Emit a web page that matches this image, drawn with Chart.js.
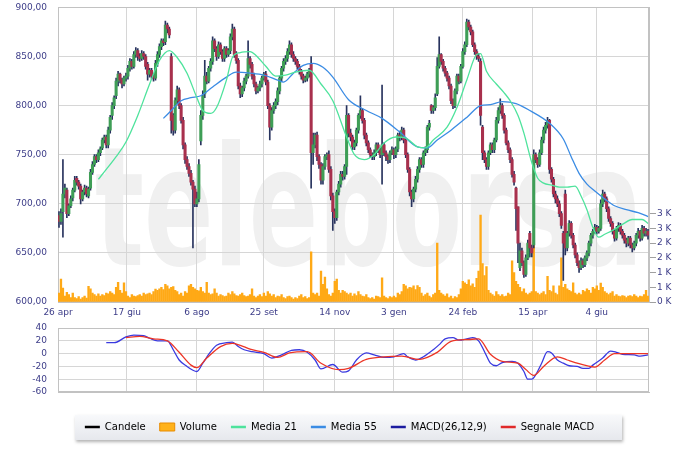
<!DOCTYPE html>
<html>
<head>
<meta charset="utf-8">
<script src="https://cdn.jsdelivr.net/npm/chart.js"></script>
<style>
  html, body { margin: 0; padding: 0; background: #fff; }
  #wrap { position: relative; width: 700px; height: 451px; overflow: hidden; }
  #top { position: absolute; left: 0; top: 0; width: 700px; height: 320px; }
  #bottom { position: absolute; left: 0; top: 320px; width: 700px; height: 131px; }
</style>
</head>
<body>
<div id="wrap">
  <div id="top"><canvas id="priceChart"></canvas></div>
  <div id="bottom"><canvas id="macdChart"></canvas></div>
</div>
<script>
// daily candles, one entry per trading day from 26 apr
const open = [
  688,682,692,710,714,690,698,706,714,726,
  722,718,705,712,716,708,716,732,740,748,
  745,752,757,765,768,760,775,790,800,810,
  825,832,826,822,828,830,838,845,840,852,
  856,850,848,853,850,842,832,836,830,828,
  843,852,860,866,865,882,878,850,790,775,
  805,816,800,785,760,745,738,731,722,715,
  700,705,764,790,812,830,825,838,845,866,
  858,850,862,855,848,858,852,856,870,878,
  852,846,820,812,818,825,830,848,842,830,
  822,815,818,822,828,832,824,800,778,795,
  800,804,815,828,838,845,848,855,862,852,
  848,845,840,835,830,826,828,832,842,752,
  760,770,748,740,724,738,748,750,735,708,
  692,686,712,720,730,728,738,790,772,768,
  758,762,775,790,795,785,770,762,755,750,
  748,752,760,755,750,760,752,748,745,752,
  755,750,756,770,768,775,765,750,735,712,
  705,715,725,735,745,740,752,755,778,800,
  795,798,812,840,852,845,838,833,828,820,
  805,800,815,830,825,840,855,862,885,880,
  875,862,855,850,845,778,752,745,738,752,
  760,755,765,785,795,800,790,775,762,755,
  745,730,716,697,635,652,640,628,645,670,
  655,658,750,745,740,752,765,775,780,785,
  735,725,710,705,700,690,670,710,655,670,
  680,668,658,648,640,635,642,638,645,650,
  660,668,672,676,672,675,700,710,705,695,
  685,680,672,665,675,678,672,668,663,660,
  665,658,655,660,668,672,665,675,670,672
];
const high = [
  692,695,745,720,716,700,708,716,728,728,
  724,720,714,719,718,717,735,743,750,750,
  755,758,767,770,770,778,790,803,810,828,
  835,833,828,830,833,841,848,847,855,859,
  858,853,856,855,852,844,838,838,832,846,
  855,863,868,868,886,884,880,853,792,808,
  820,818,802,788,762,748,741,734,724,718,
  712,745,795,815,846,834,840,848,870,868,
  860,865,864,857,860,860,858,873,883,880,
  855,848,823,820,828,832,866,850,844,833,
  824,820,825,830,834,835,826,802,798,803,
  807,818,830,840,848,851,858,866,864,855,
  850,847,842,837,832,830,834,838,850,772,
  772,773,750,742,741,750,752,754,738,711,
  695,714,723,733,733,740,800,792,776,770,
  765,777,792,810,797,787,772,764,757,752,
  755,762,762,757,821,762,754,750,754,758,
  757,758,772,774,778,777,767,752,737,714,
  717,728,738,747,747,754,758,780,785,801,
  800,812,849,870,853,847,840,835,830,822,
  807,817,832,832,842,858,865,888,887,882,
  877,864,857,853,848,780,754,747,754,762,
  762,767,788,798,807,802,792,777,764,757,
  747,733,717,697,660,655,642,648,663,672,
  658,755,752,747,755,768,778,783,788,786,
  737,727,713,708,703,692,672,714,672,683,
  682,670,660,650,642,645,644,647,652,662,
  670,674,679,678,677,704,714,712,707,697,
  687,682,674,677,681,680,674,670,665,667,
  667,660,662,670,675,673,678,677,675,674
];
const low = [
  676,679,666,706,686,688,696,703,712,719,
  715,700,703,709,707,706,714,730,738,742,
  743,749,755,762,757,757,772,786,797,807,
  820,823,818,820,825,827,835,837,838,849,
  846,845,846,847,837,826,829,827,825,826,
  840,849,857,861,862,874,869,772,770,772,
  802,797,782,756,741,735,728,719,655,697,
  697,702,760,786,808,822,823,835,842,855,
  846,848,852,845,845,849,850,853,867,849,
  843,817,808,809,815,822,828,838,827,819,
  812,813,815,819,826,821,797,765,775,792,
  797,801,812,825,835,842,845,852,849,845,
  842,837,832,827,823,824,825,829,716,740,
  757,744,736,720,720,735,745,732,704,673,
  680,683,709,717,724,725,730,768,764,755,
  755,759,772,787,782,766,759,752,747,745,
  745,749,752,747,720,749,744,741,742,750,
  746,747,753,764,765,762,747,732,708,697,
  702,712,722,732,737,737,749,752,775,792,
  792,795,810,838,842,835,830,825,817,802,
  797,798,812,822,823,838,852,860,877,872,
  860,852,847,845,780,745,742,735,735,750,
  752,752,763,782,792,787,772,760,752,742,
  727,719,673,640,632,637,625,626,643,646,
  646,655,742,737,738,750,762,772,777,731,
  722,707,701,697,687,675,622,648,652,667,
  665,655,645,637,630,633,635,636,642,647,
  657,665,670,669,670,673,697,702,692,682,
  677,669,662,663,672,669,665,660,656,657,
  655,651,653,657,665,662,663,667,667,664
];
const close = [
  682,690,710,716,690,698,705,714,724,722,
  718,705,712,716,710,715,732,740,748,745,
  752,756,765,768,760,775,788,800,808,825,
  832,826,822,828,830,838,845,840,852,856,
  850,848,853,850,840,832,836,830,828,843,
  852,860,866,864,882,878,872,785,775,805,
  816,800,785,760,745,738,731,722,715,700,
  705,740,790,810,830,825,838,845,866,858,
  850,862,855,848,858,852,856,870,878,852,
  846,820,812,818,825,830,848,842,830,822,
  815,818,822,828,832,824,800,778,795,800,
  804,815,828,838,845,848,855,862,852,848,
  845,840,835,830,826,828,832,836,752,760,
  770,748,740,724,738,748,750,735,708,692,
  686,712,720,730,728,738,790,772,768,758,
  762,775,790,795,785,770,762,755,750,748,
  752,760,755,750,760,752,748,745,752,755,
  750,756,770,768,775,765,750,735,712,705,
  715,725,735,745,740,752,755,778,782,795,
  798,808,840,852,845,838,833,828,820,805,
  800,815,830,825,840,855,862,885,880,875,
  862,855,850,848,790,752,745,738,752,760,
  755,765,785,795,800,790,775,762,755,745,
  730,722,695,660,652,640,628,645,660,655,
  650,750,745,740,752,765,775,780,785,735,
  725,710,705,700,690,678,660,655,670,680,
  668,658,648,640,635,642,638,645,650,660,
  668,672,676,672,675,700,710,705,695,685,
  680,672,665,675,678,672,668,663,660,665,
  658,655,660,668,672,665,675,670,672,668
];
const volume = [
  300,780,470,200,330,250,150,300,150,120,
  180,100,150,200,130,530,450,300,250,200,
  280,200,250,220,300,280,350,300,250,500,
  670,400,300,650,350,200,150,250,200,180,
  220,250,200,300,250,280,300,250,350,440,
  400,450,500,420,600,550,450,500,520,400,
  350,250,300,200,350,300,550,600,500,450,
  400,380,500,350,300,670,300,250,280,450,
  300,200,250,220,180,200,300,250,350,280,
  220,200,250,300,220,180,200,250,450,200,
  150,200,250,180,300,200,350,280,200,250,
  150,200,180,250,150,120,180,200,150,100,
  150,120,200,250,150,180,120,150,1700,300,
  250,300,200,1050,600,850,450,250,200,300,
  700,780,400,300,400,350,300,250,300,200,
  280,220,350,250,200,180,250,150,120,150,
  100,200,180,150,820,200,150,120,180,150,
  200,150,300,250,350,600,550,450,500,480,
  550,420,560,500,300,200,250,300,200,150,
  250,300,2000,400,300,250,200,280,150,200,
  120,180,150,250,450,700,650,600,750,550,
  620,500,800,1050,2950,1300,900,1200,400,300,
  250,200,350,250,200,250,180,200,300,250,
  1400,1000,700,600,500,350,450,300,250,300,
  350,2100,350,300,250,300,350,250,870,400,
  350,550,300,250,550,1500,500,600,450,400,
  350,650,300,250,300,250,400,350,450,400,
  300,500,450,550,400,640,500,350,300,250,
  300,350,200,250,200,180,220,200,150,200,
  220,180,250,200,150,200,180,250,400,200
];

// moving averages at the given trading days
const ma21Days = [20,24,29,34,40,46,51,56,60,65,70,73,77,80,85,88,92,97,100,105,
  110,115,120,127,133,139,146,150,155,160,165,171,176,182,186,190,197,202,207,212,
  214,217,222,226,229,233,236,240,243,246,250,254,258,262,265,268,271,274,277,281,
  286,291,296,299];
const ma21 = [725,735,748,763,790,822,846,856,849,833,808,795,792,798,826,849,854,855,851,840,
  830,831,834,836,822,805,768,750,745,750,762,768,767,758,757,765,778,798,826,852,
  853,835,822,813,805,790,772,742,726,721,719,717,717,718,708,694,676,666,669,673,
  679,684,684,680];
const ma55Days = [53,57,62,67,72,78,85,90,97,104,111,114,119,124,129,134,139,147,156,164,
  173,182,187,192,199,207,214,219,225,232,239,249,256,260,264,268,272,277,282,288,294,299];
const ma55 = [787,795,805,808,810,819,829,834,833,831,826,824,833,841,843,839,829,806,795,787,
  773,758,757,765,775,788,800,801,804,802,795,782,766,748,731,720,713,705,698,694,691,687];

// MACD(26,12,9) and its signal line
const macdDays = [24,28,34,38,43,46,50,55,58,61,65,68,70,73,77,80,85,88,91,94,
  98,104,108,113,118,122,126,130,133,139,144,147,151,156,160,165,170,175,177,181,
  185,190,193,196,200,203,207,210,213,216,219,222,225,230,233,236,238,240,242,245,
  248,250,253,256,259,263,266,269,271,276,280,283,286,292,295,299];
const macd = [17,17,26,29,28,24,20,20,6,-10,-20,-26,-28,-15,3,13,17,18,11,6,
  3,0,-7,-2,5,6,2,-10,-24,-17,-29,-27,-10,1,-2,-6,-5,0,-5,-10,
  -5,6,14,23,25,21,23,25,20,3,-15,-19,-14,-12,-15,-28,-40,-40,-33,-15,
  3,1,-10,-15,-19,-20,-23,-23,-18,-7,4,2,-1,-2,-4,-2];
const signalDays = [34,41,48,55,61,67,70,75,82,88,92,97,104,111,117,126,133,142,147,156,
  165,174,183,192,199,208,213,219,225,233,237,241,246,253,258,262,272,277,282,292,299];
const signal = [25,27,23,20,2,-18,-22,-7,11,16,13,7,2,-6,1,3,-15,-25,-23,-9,
  -5,-4,-9,2,19,22,23,-1,-12,-15,-25,-34,-20,-5,-10,-14,-21,-10,0,0,0];

// date ticks (position in trading days) and their labels
const tickDays = [-0.5, 34.5, 70, 104, 140, 170, 205, 240.5, 273];
const tickLabels = ["26 apr", "17 giu", "6 ago", "25 set", "14 nov", "3 gen", "24 feb", "15 apr", "4 giu"];

const upColour = "#3e9e56";
const downColour = "#a8304d";
const wickColour = "#28335e";
const volColour = "#ffa916";
const ma21Colour = "#4ee39c";
const ma55Colour = "#3b8ce4";
const macdColour = "#3a3ae0";
const signalColour = "#ec3526";
const gridColour = "#d6d6d6";
const frameColour = "#c2c2c2";
const tickColour = "#3c3c88";
const noColour = "rgba(0,0,0,0)";
const tickFont = { family: "'DejaVu Sans', Verdana, sans-serif", size: 9 };

const pts = (xs, ys) => xs.map((x, i) => ({ x: x, y: ys[i] }));
const days = close.map((c, i) => i);

const wickData = days.map(i => ({ x: i, y: [low[i], high[i]] }));
const bodyData = days.map(i => ({
  x: i,
  y: open[i] === close[i] ? [close[i] - 0.6, close[i] + 0.6] : [Math.min(open[i], close[i]), Math.max(open[i], close[i])]
}));
const bodyColours = days.map(i => close[i] >= open[i] ? upColour : downColour);
const volumeData = days.map(i => ({ x: i, y: volume[i] }));

function dateAxis(showLabels, height) {
  return {
    type: "linear",
    min: -0.5,
    max: 299.5,
    offset: false,
    afterBuildTicks: s => { s.ticks = tickDays.map(v => ({ value: v })); },
    afterFit: s => { s.height = height; },
    grid: { color: gridColour, drawTicks: false, offset: false },
    border: { color: frameColour },
    ticks: {
      display: showLabels,
      autoSkip: false,
      maxRotation: 0,
      padding: 5,
      color: tickColour,
      font: tickFont,
      callback: (v, i) => tickLabels[i]
    }
  };
}

const frame = {
  id: "frame",
  beforeDatasetsDraw(chart) {
    const { ctx, chartArea: a } = chart;
    ctx.save();
    ctx.strokeStyle = frameColour;
    ctx.lineWidth = 1;
    ctx.strokeRect(Math.round(a.left) + 0.5, Math.round(a.top) + 0.5,
      Math.round(a.right - a.left) - 1, Math.round(a.bottom - a.top) - 1);
    ctx.restore();
  }
};

const watermark = {
  id: "watermark",
  beforeDraw(chart) {
    const ctx = chart.ctx;
    const text = "teleborsa";
    ctx.save();
    ctx.font = "bold 165px 'DejaVu Sans'";
    ctx.fillStyle = "#f0f0f0";
    const w = ctx.measureText(text).width;
    ctx.translate(95, 265);
    ctx.scale(548 / w, 1);
    ctx.fillText(text, 0, 0);
    ctx.restore();
  }
};

new Chart(document.getElementById("priceChart"), {
  type: "bar",
  data: {
    datasets: [
      {
        type: "line", label: "Media 21", data: pts(ma21Days, ma21), yAxisID: "y",
        borderColor: ma21Colour, borderWidth: 1.3, pointRadius: 0,
        cubicInterpolationMode: "monotone", order: 0
      },
      {
        type: "line", label: "Media 55", data: pts(ma55Days, ma55), yAxisID: "y",
        borderColor: ma55Colour, borderWidth: 1.3, pointRadius: 0,
        cubicInterpolationMode: "monotone", order: 0
      },
      { label: "Candele", data: bodyData, yAxisID: "y", backgroundColor: bodyColours, barThickness: 2.4, order: 1 },
      { label: "Candele wick", data: wickData, yAxisID: "y", backgroundColor: wickColour, barThickness: 1, order: 2 },
      { label: "Volume", data: volumeData, yAxisID: "vol", backgroundColor: volColour, barThickness: 1.7, order: 3 }
    ]
  },
  options: {
    responsive: true,
    maintainAspectRatio: false,
    animation: false,
    events: [],
    grouped: false,
    layout: { padding: { left: 0, top: 7, right: 0, bottom: 0 } },
    plugins: { legend: { display: false }, tooltip: { enabled: false } },
    scales: {
      x: dateAxis(true, 18),
      y: {
        position: "left",
        min: 600,
        max: 900,
        afterFit: s => { s.width = 58; },
        grid: { color: gridColour, drawTicks: true, tickLength: 9, tickColor: noColour },
        border: { color: frameColour },
        ticks: {
          stepSize: 50,
          padding: 2,
          autoSkip: false,
          color: tickColour,
          font: tickFont,
          callback: v => v.toFixed(2).replace(".", ",")
        }
      },
      vol: {
        position: "right",
        min: 0,
        max: 10000,
        afterFit: s => { s.width = 51; },
        grid: {
          drawOnChartArea: false,
          tickLength: 7,
          color: c => (c.tick && c.tick.value <= 3000) ? "#a0a0a0" : noColour
        },
        border: { color: frameColour },
        ticks: {
          stepSize: 500,
          padding: 1,
          autoSkip: false,
          color: tickColour,
          font: tickFont,
          callback: v => v <= 3000 ? Math.round(v / 1000) + " K" : ""
        }
      }
    }
  },
  plugins: [watermark, frame]
});

const legendItems = [
  { text: "Candele", pointStyle: "line", strokeStyle: "#000000", fillStyle: "#000000", lineWidth: 2.5 },
  { text: "Volume", pointStyle: "rect", strokeStyle: "#e88c00", fillStyle: "#ffb21a", lineWidth: 1 },
  { text: "Media 21", pointStyle: "line", strokeStyle: ma21Colour, fillStyle: ma21Colour, lineWidth: 2.5 },
  { text: "Media 55", pointStyle: "line", strokeStyle: ma55Colour, fillStyle: ma55Colour, lineWidth: 2.5 },
  { text: "MACD(26,12,9)", pointStyle: "line", strokeStyle: "#1c1ca0", fillStyle: "#1c1ca0", lineWidth: 2.5 },
  { text: "Segnale MACD", pointStyle: "line", strokeStyle: "#e02a2a", fillStyle: "#e02a2a", lineWidth: 2.5 }
];

const legendBox = {
  id: "legendBox",
  beforeDraw(chart) {
    const boxes = chart.legend && chart.legend.legendHitBoxes;
    if (!boxes || !boxes.length) return;
    const left = Math.round(Math.min(...boxes.map(b => b.left)) - 10);
    const right = Math.round(Math.max(...boxes.map(b => b.left + b.width)) + 28);
    const mid = boxes[0].top + boxes[0].height / 2;
    const top = Math.round(mid - 12.5);
    const h = 25;
    const ctx = chart.ctx;
    ctx.save();
    ctx.shadowColor = "rgba(0,0,0,0.3)";
    ctx.shadowBlur = 3;
    ctx.shadowOffsetX = 1;
    ctx.shadowOffsetY = 2;
    const g = ctx.createLinearGradient(0, top, 0, top + h);
    g.addColorStop(0, "#f8f9fb");
    g.addColorStop(1, "#e6e8ed");
    ctx.fillStyle = g;
    ctx.fillRect(left, top, right - left, h);
    ctx.restore();
  }
};

new Chart(document.getElementById("macdChart"), {
  type: "line",
  data: {
    datasets: [
      {
        label: "Segnale MACD", data: pts(signalDays, signal),
        borderColor: signalColour, borderWidth: 1.3, pointRadius: 0, cubicInterpolationMode: "monotone"
      },
      {
        label: "MACD(26,12,9)", data: pts(macdDays, macd),
        borderColor: macdColour, borderWidth: 1.3, pointRadius: 0, cubicInterpolationMode: "monotone"
      }
    ]
  },
  options: {
    responsive: true,
    maintainAspectRatio: false,
    animation: false,
    events: [],
    layout: { padding: { left: 0, top: 8, right: 21, bottom: 9 } },
    plugins: {
      tooltip: { enabled: false },
      legend: {
        position: "bottom",
        labels: {
          usePointStyle: true,
          pointStyleWidth: 15,
          boxHeight: 8,
          padding: 14,
          color: "#1e1e6a",
          font: { family: "'DejaVu Sans', Verdana, sans-serif", size: 10 },
          generateLabels: () => legendItems.map((it, i) => Object.assign({ hidden: false, datasetIndex: i }, it))
        }
      }
    },
    scales: {
      x: dateAxis(false, 16),
      y: {
        min: -60,
        max: 40,
        afterFit: s => { s.width = 58; },
        grid: { color: gridColour, drawTicks: true, tickLength: 9, tickColor: noColour },
        border: { color: frameColour },
        ticks: { stepSize: 20, padding: 2, autoSkip: false, color: tickColour, font: tickFont, callback: v => String(v) }
      },
      side: {
        position: "right",
        afterFit: s => { s.width = 30; },
        grid: { drawOnChartArea: false, drawTicks: false },
        border: { display: false },
        ticks: { display: false }
      }
    }
  },
  plugins: [legendBox, frame]
});
</script>
</body>
</html>
